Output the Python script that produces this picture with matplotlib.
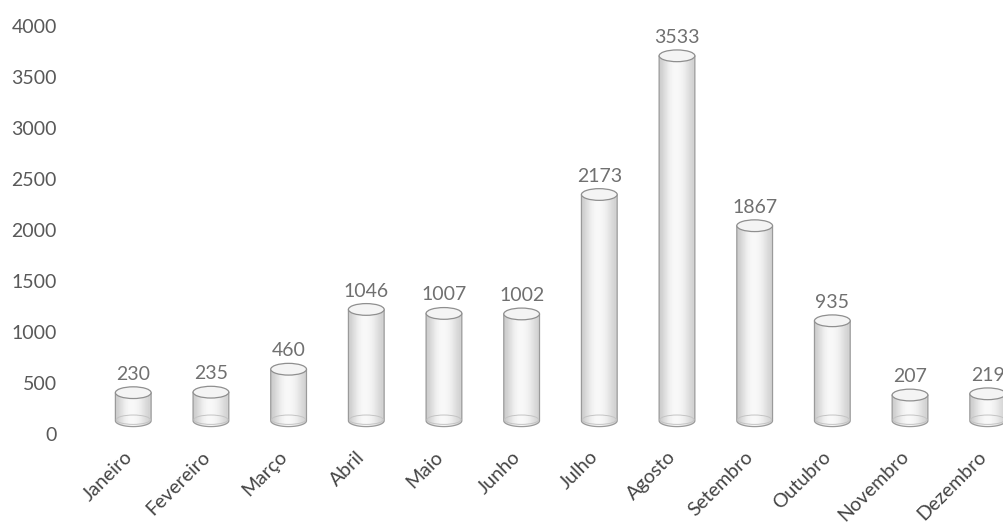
import numpy as np
import matplotlib
matplotlib.use("Agg")
from matplotlib import pyplot as plt
from matplotlib import transforms
from matplotlib.patches import Ellipse, PathPatch
from matplotlib.path import Path

# data
months = ["Janeiro", "Fevereiro", "Março", "Abril", "Maio", "Junho",
          "Julho", "Agosto", "Setembro", "Outubro", "Novembro", "Dezembro"]
values = [230, 235, 460, 1046, 1007, 1002, 2173, 3533, 1867, 935, 207, 219]
yticks = [0, 500, 1000, 1500, 2000, 2500, 3000, 3500, 4000]

plt.rcParams["font.family"] = ["Lato", "DejaVu Sans"]

fig = plt.figure(figsize=(10.04, 5.31), dpi=100)
ax = fig.add_axes([0.0747, 0.1827, 0.9253, 0.7683])

# 3D look: floor raised a bit, cylinder top pushed up by the depth offset
floor = 130
depth = 175
width = 0.46
cap_h = 115

grad = np.array([[0.80, 0.86, 0.92, 0.96, 0.975, 0.97, 0.95, 0.91, 0.86, 0.82]])

for i, v in enumerate(values):
    x0, x1 = i - width / 2, i + width / 2
    top = v + depth
    # body outline: left side up, right side down, lower half-ellipse back
    t = np.linspace(0, np.pi, 40)
    arc_x = i + (width / 2) * np.cos(t)
    arc_y = floor - (cap_h / 2) * np.sin(t)
    verts = [(x0, floor), (x0, top), (x1, top), (x1, floor)]
    verts += list(zip(arc_x, arc_y))
    verts.append((x0, floor))
    path = Path(verts)
    body = PathPatch(path, facecolor="none", edgecolor="#9a9a9a", lw=0.9, zorder=3)
    ax.add_patch(body)
    img = ax.imshow(grad, cmap="gray", vmin=0, vmax=1, aspect="auto",
                    extent=(x0, x1, floor - cap_h, top), zorder=2,
                    interpolation="bicubic")
    img.set_clip_path(body)
    # inner bottom rim
    ax.add_patch(Ellipse((i, floor + 10), width * 0.95, cap_h * 0.8, facecolor="none",
                         edgecolor="#c4c4c4", lw=0.7, zorder=3))
    # top cap
    ax.add_patch(Ellipse((i, top), width, cap_h, facecolor="#f4f4f4",
                         edgecolor="#8f8f8f", lw=0.9, zorder=4))
    ax.text(i, top + cap_h / 2 + 40, f"{v}", ha="center", va="bottom",
            fontsize=14, color="#707070", zorder=5)

ax.set_xlim(-0.75, 11.21)
ax.set_ylim(0, 4000)
ax.set_yticks(yticks)
ax.set_yticklabels([str(t) for t in yticks])
ax.set_xticks(range(len(months)))
ax.set_xticklabels(months, rotation=45, ha="right", va="top",
                   rotation_mode="anchor")
ax.tick_params(axis="both", length=0, labelsize=14)
ax.tick_params(axis="y", pad=13, labelcolor="#595959")
ax.tick_params(axis="x", pad=10, labelcolor="#444444")
shift = transforms.ScaledTranslation(-10 / 100, 0, fig.dpi_scale_trans)
for lab in ax.get_xticklabels():
    lab.set_transform(lab.get_transform() + shift)
for s in ax.spines.values():
    s.set_visible(False)

fig.savefig("out.png", dpi=100)
